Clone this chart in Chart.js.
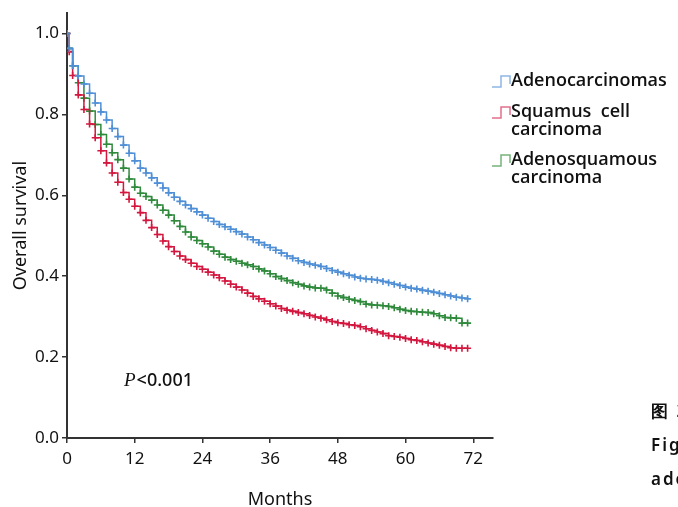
<!DOCTYPE html>
<html>
<head>
<meta charset="utf-8">
<script src="https://cdn.jsdelivr.net/npm/chart.js@4.4.1/dist/chart.umd.min.js"></script>
<style>
  html, body { margin: 0; padding: 0; background: #fff; overflow: hidden; }
  #wrap { position: relative; width: 678px; height: 507px; overflow: hidden; }
  #chart { position: absolute; left: 0; top: 0; }
  .note { position: absolute; left: 651px; white-space: nowrap; font-family: "Noto Sans", sans-serif;
          font-size: 17px; font-weight: 600; color: #111; letter-spacing: 2px; }
</style>
</head>
<body>
<div id="wrap">
  <canvas id="chart" width="678" height="507"></canvas>
  <div class="note" style="top:399px">图 2</div>
  <div class="note" style="top:433px">Figure</div>
  <div class="note" style="top:467px">adeno</div>
</div>
<script>
///Survival data (months, survival probability)
var months = [0, 0.4, 1, 2, 3, 4, 5, 6, 7, 8, 9, 10, 11, 12, 13, 14, 15, 16, 17, 18, 19, 20,
  21, 22, 23, 24, 25, 26, 27, 28, 29, 30, 31, 32, 33, 34, 35, 36, 37, 38, 39, 40,
  41, 42, 43, 44, 45, 46, 47, 48, 49, 50, 51, 52, 53, 54, 55, 56, 57, 58, 59, 60,
  61, 62, 63, 64, 65, 66, 67, 68, 69, 70, 71];

var adeno = [1.000, 0.963, 0.920, 0.895, 0.875, 0.852, 0.828, 0.806, 0.786, 0.765, 0.745, 0.724,
  0.704, 0.685, 0.667, 0.655, 0.643, 0.630, 0.618, 0.606, 0.595, 0.585,
  0.576, 0.567, 0.559, 0.551, 0.543, 0.535, 0.528, 0.522, 0.516, 0.510,
  0.504, 0.497, 0.490, 0.483, 0.477, 0.471, 0.464, 0.457, 0.450, 0.444,
  0.438, 0.434, 0.430, 0.427, 0.424, 0.419, 0.414, 0.410, 0.406, 0.402,
  0.398, 0.395, 0.393, 0.392, 0.390, 0.387, 0.384, 0.380, 0.377, 0.373,
  0.370, 0.368, 0.365, 0.363, 0.360, 0.357, 0.354, 0.351, 0.348, 0.346, 0.344];

var squamous = [1.000, 0.955, 0.896, 0.848, 0.812, 0.776, 0.742, 0.710, 0.680, 0.655, 0.632, 0.607,
  0.590, 0.573, 0.557, 0.538, 0.520, 0.503, 0.487, 0.473, 0.461, 0.450,
  0.441, 0.432, 0.424, 0.417, 0.410, 0.403, 0.396, 0.388, 0.380, 0.373,
  0.366, 0.358, 0.350, 0.344, 0.338, 0.332, 0.326, 0.320, 0.316, 0.313,
  0.310, 0.307, 0.303, 0.299, 0.296, 0.292, 0.288, 0.285, 0.283, 0.280,
  0.278, 0.275, 0.270, 0.266, 0.262, 0.258, 0.253, 0.251, 0.249, 0.246,
  0.243, 0.241, 0.238, 0.235, 0.232, 0.229, 0.226, 0.223, 0.222, 0.222, 0.222];

var adenosquamous = [1.000, 0.963, 0.920, 0.878, 0.840, 0.808, 0.775, 0.750, 0.726, 0.705, 0.688, 0.667,
  0.640, 0.620, 0.605, 0.597, 0.588, 0.576, 0.563, 0.551, 0.537, 0.523,
  0.509, 0.497, 0.488, 0.480, 0.472, 0.462, 0.454, 0.447, 0.441, 0.437,
  0.432, 0.428, 0.424, 0.418, 0.413, 0.406, 0.399, 0.394, 0.389, 0.384,
  0.380, 0.376, 0.373, 0.371, 0.370, 0.366, 0.358, 0.351, 0.347, 0.343,
  0.340, 0.337, 0.331, 0.329, 0.328, 0.327, 0.325, 0.322, 0.318, 0.315,
  0.313, 0.312, 0.311, 0.310, 0.307, 0.302, 0.298, 0.297, 0.296, 0.284, 0.284];

var seriesNames = ["Adenocarcinomas", "Squamus  cell carcinoma", "Adenosquamous carcinoma"];
var legendLines = [["Adenocarcinomas"], ["Squamus  cell", "carcinoma"], ["Adenosquamous", "carcinoma"]];
var seriesColors = ["#4f8fd6", "#d4173e", "#2f8a3c"];
var iconColors = ["#8db6e6", "#e2708c", "#77b27a"];

var xTicks = [0, 12, 24, 36, 48, 60, 72];
var yTicks = [0, 0.2, 0.4, 0.6, 0.8, 1.0];

function toPoints(values) {
  return months.map(function (m, i) { return { x: m, y: values[i] }; });
}

function makeSet(i, values) {
  return {
    label: seriesNames[i],
    data: toPoints(values),
    stepped: "before",
    borderColor: seriesColors[i],
    backgroundColor: seriesColors[i],
    borderWidth: 1.5,
    fill: false,
    pointStyle: "cross",
    pointRadius: 3.5,
    pointBorderWidth: 1.6,
    pointBorderColor: seriesColors[i],
  };
}

///Legend + P value drawn on the canvas
var extrasPlugin = {
  id: "extras",
  afterDraw: function (chart) {
    var ctx = chart.ctx;
    var rowY = [81, 112, 160];
    ctx.save();
    for (var i = 0; i < legendLines.length; i++) {
      var cy = rowY[i];
      ctx.strokeStyle = iconColors[i];
      ctx.lineWidth = 1.5;
      ctx.beginPath();
      ctx.moveTo(492, cy + 6);
      ctx.lineTo(501, cy + 6);
      ctx.lineTo(501, cy - 5);
      ctx.lineTo(510, cy - 5);
      ctx.lineTo(510, cy + 3);
      ctx.stroke();
      ctx.fillStyle = "#111";
      ctx.font = "600 18px 'Open Sans', 'Noto Sans', sans-serif";
      ctx.textBaseline = "middle";
      ctx.textAlign = "left";
      for (var j = 0; j < legendLines[i].length; j++) {
        ctx.fillText(legendLines[i][j], 511, cy + j * 18);
      }
    }
    // P value
    ctx.fillStyle = "#111";
    ctx.textBaseline = "middle";
    ctx.font = "italic 19px 'Liberation Serif', serif";
    ctx.fillText("P", 124, 381);
    var pw = ctx.measureText("P").width;
    ctx.font = "500 18px 'Noto Sans', sans-serif";
    ctx.fillText("<0.001", 124 + pw + 1, 381);
    ctx.restore();
  },
};

var ctx = document.getElementById("chart");
var mychart = new Chart(ctx, {
  type: "line",
  data: {
    datasets: [makeSet(0, adeno), makeSet(1, squamous), makeSet(2, adenosquamous)],
  },
  plugins: [extrasPlugin],
  options: {
    responsive: false,
    animation: false,
    devicePixelRatio: 1,
    layout: { padding: { top: 13, right: 185, left: 0, bottom: 0 } },
    plugins: {
      legend: { display: false },
      tooltip: { enabled: false },
    },
    scales: {
      x: {
        type: "linear",
        min: 0,
        max: 75.5,
        afterBuildTicks: function (scale) {
          scale.ticks = xTicks.map(function (v) { return { value: v }; });
        },
        afterFit: function (scale) { scale.height = 69; },
        ticks: {
          color: "#111",
          padding: 6,
          maxRotation: 0,
          font: { family: "'Noto Sans', sans-serif", size: 17 },
        },
        grid: {
          drawOnChartArea: false,
          drawTicks: true,
          tickLength: 5,
          color: "#333",
          lineWidth: 1.5,
        },
        border: { color: "#333", width: 2 },
        title: {
          display: true,
          text: "Months",
          color: "#111",
          padding: { top: 0, bottom: -4 },
          font: { family: "'Noto Sans', sans-serif", size: 18 },
        },
      },
      y: {
        min: 0,
        max: 1.05,
        afterBuildTicks: function (scale) {
          scale.ticks = yTicks.map(function (v) { return { value: v }; });
        },
        afterFit: function (scale) { scale.width = 67; },
        ticks: {
          color: "#111",
          padding: 3,
          font: { family: "'Noto Sans', sans-serif", size: 17 },
          callback: function (v) { return v.toFixed(1); },
        },
        grid: {
          drawOnChartArea: false,
          drawTicks: true,
          tickLength: 5,
          color: "#333",
          lineWidth: 1.5,
        },
        border: { color: "#333", width: 2 },
        title: {
          display: true,
          text: "Overall survival",
          color: "#111",
          padding: { top: 10, bottom: 0 },
          font: { family: "'Noto Sans', sans-serif", size: 18 },
        },
      },
    },
  },
});
</script>
</body>
</html>
